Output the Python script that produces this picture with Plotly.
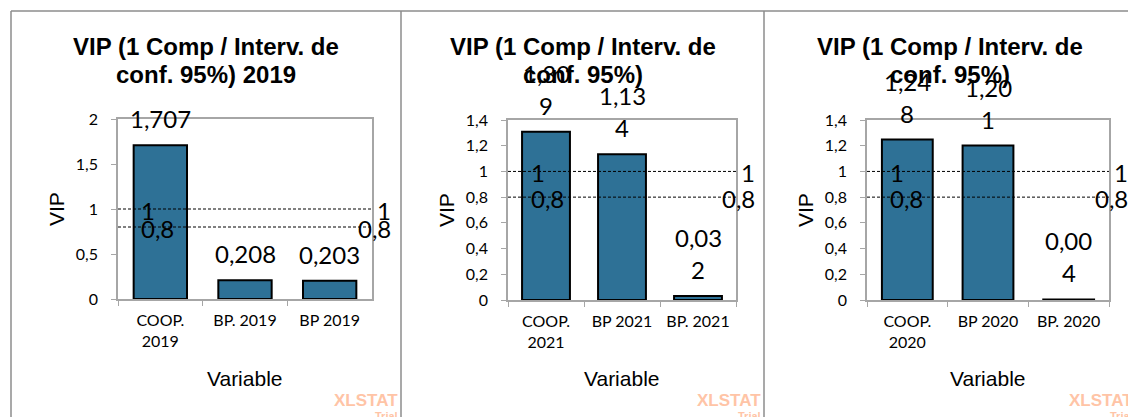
import plotly.graph_objects as go

W, H = 1128, 417

# ---------------- data ----------------
title_line1 = ["VIP (1 Comp / Interv. de", "VIP (1 Comp / Interv. de", "VIP (1 Comp / Interv. de"]
title_line2 = ["conf. 95%) 2019", "conf. 95%)", "conf. 95%)"]

cats_2019 = ["COOP. 2019", "BP. 2019", "BP 2019"]
vip_2019 = [1.707, 0.208, 0.203]

cats_2021 = ["COOP. 2021", "BP 2021", "BP. 2021"]
vip_2021 = [1.309, 1.134, 0.032]

cats_2020 = ["COOP. 2020", "BP 2020", "BP. 2020"]
vip_2020 = [1.248, 1.201, 0.004]

ref_lines = [1, 0.8]
y_max = [2, 1.4, 1.4]
y_dtick = [0.5, 0.2, 0.2]

x_title = "Variable"
y_title = "VIP"

# ---------------- layout geometry (pixels) ----------------
panels = [
    dict(left=11, right=401, ax0=118, ax1=372, top=119, bottom=299, wrap=None),
    dict(left=401, right=764, ax0=508, ax1=736, top=120, bottom=300, wrap=4),
    dict(left=764, right=1136, ax0=867, ax1=1109, top=120, bottom=300, wrap=4),
]
series = [(cats_2019, vip_2019), (cats_2021, vip_2021), (cats_2020, vip_2020)]

BAR_COLOR = "#2E7196"
AXIS_COLOR = "#A6A6A6"
BORDER_COLOR = "#8C8C8C"
LABEL_FONT = "Lato, 'Open Sans', sans-serif"
ARIAL = "'Liberation Sans', Arial, sans-serif"
LINE_GAP = 32


def fx(px):
    return px / W


def fy(py):
    return 1 - py / H


def fmt(v, dec=None):
    return (f"{v:.{dec}f}" if dec is not None else f"{v:g}").replace(".", ",")


def wrap_lines(s, n):
    if n is None or len(s) <= n:
        return [s]
    return [s[:n], s[n:]]


fig = go.Figure()
annotations = []
shapes = []

for i, (p, (cats, vals)) in enumerate(zip(panels, series)):
    k = "" if i == 0 else str(i + 1)
    xa, ya = "x" + k, "y" + k
    fig.add_trace(go.Bar(
        x=cats, y=vals, xaxis=xa, yaxis=ya,
        marker=dict(color=BAR_COLOR, line=dict(color="black", width=2)),
        cliponaxis=False, showlegend=False, hoverinfo="x+y",
    ))
    tick_text = [c.replace("COOP. ", "COOP.<br>") for c in cats]
    fig.update_layout(**{
        "xaxis" + k: dict(
            domain=[fx(p["ax0"]), fx(p["ax1"])], anchor=ya, automargin=False,
            type="category", tickvals=cats, ticktext=tick_text,
            tickson="boundaries", ticks="outside", ticklen=5, tickcolor=AXIS_COLOR,
            showline=True, linecolor=AXIS_COLOR, linewidth=1.5, mirror=True,
            showgrid=False, ticklabelstandoff=6,
            tickfont=dict(family=LABEL_FONT, size=16, color="black"),
        ),
        "yaxis" + k: dict(
            domain=[fy(p["bottom"]), fy(p["top"])], anchor=xa, automargin=False,
            range=[0, y_max[i]], dtick=y_dtick[i], tick0=0,
            ticks="outside", ticklen=5, tickcolor=AXIS_COLOR,
            showline=True, linecolor=AXIS_COLOR, linewidth=1.5, mirror=True,
            showgrid=False, zeroline=False, ticklabelstandoff=10,
            tickfont=dict(family=LABEL_FONT, size=16, color="black"),
        ),
    })

    # data labels (wrapped labels drawn line by line)
    for c, v in zip(cats, vals):
        lines = wrap_lines(fmt(v, 3), p["wrap"])
        for j, line in enumerate(reversed(lines)):
            annotations.append(dict(
                xref=xa, yref=ya, x=c, y=v, text=line,
                showarrow=False, yanchor="bottom", yshift=10 + j * LINE_GAP,
                font=dict(family=LABEL_FONT, size=24, color="black"),
            ))

    # reference lines and their labels
    for r in ref_lines:
        shapes.append(dict(
            type="line", xref=xa + " domain", yref=ya, x0=0, x1=1, y0=r, y1=r,
            line=dict(color="black", width=1, dash="3px,2px"),
        ))
        annotations.append(dict(
            xref=xa + " domain", yref=ya, x=0, y=r, text=fmt(r),
            showarrow=False, xanchor="left", yanchor="middle", xshift=21, yshift=-1,
            font=dict(family=LABEL_FONT, size=24, color="black"),
        ))
        annotations.append(dict(
            xref=xa + " domain", yref=ya, x=1, y=r, text=fmt(r),
            showarrow=False, xanchor="right", yanchor="middle", xshift=21, yshift=-1,
            font=dict(family=LABEL_FONT, size=24, color="black"),
        ))

    # titles
    cx = (p["left"] + p["right"]) / 2
    annotations.append(dict(
        xref="paper", yref="paper", x=fx(cx), y=fy(47), text="<b>" + title_line1[i] + "</b>",
        showarrow=False, xanchor="center", yanchor="middle",
        font=dict(family=ARIAL, size=24, color="black"),
    ))
    annotations.append(dict(
        xref="paper", yref="paper", x=fx(cx), y=fy(74), text="<b>" + title_line2[i] + "</b>",
        showarrow=False, xanchor="center", yanchor="middle",
        font=dict(family=ARIAL, size=24, color="black"),
    ))

    # axis titles
    annotations.append(dict(
        xref="paper", yref="paper", x=fx((p["ax0"] + p["ax1"]) / 2), y=fy(378), text=x_title,
        showarrow=False, xanchor="center", yanchor="middle",
        font=dict(family=ARIAL, size=21, color="black"),
    ))
    annotations.append(dict(
        xref="paper", yref="paper", x=fx(p["ax0"] - 62), y=fy((p["top"] + p["bottom"]) / 2),
        text=y_title, textangle=-90,
        showarrow=False, xanchor="center", yanchor="middle",
        font=dict(family=ARIAL, size=21, color="black"),
    ))

    # watermark
    annotations.append(dict(
        xref="paper", yref="paper", x=fx(p["right"] - 1), y=fy(400), text="<b>XLSTAT</b>",
        showarrow=False, xanchor="right", yanchor="middle",
        font=dict(family=ARIAL, size=17, color="#FFC4A6"),
    ))
    annotations.append(dict(
        xref="paper", yref="paper", x=fx(p["right"] - 1), y=fy(416), text="<b>Trial</b>",
        showarrow=False, xanchor="right", yanchor="middle",
        font=dict(family=ARIAL, size=11, color="#FFC4A6"),
    ))

# panel borders
shapes.append(dict(type="line", xref="paper", yref="paper", x0=fx(11), x1=1, y0=fy(11), y1=fy(11),
                   line=dict(color=BORDER_COLOR, width=1.5), layer="above"))
for bx in [11, 401, 764]:
    shapes.append(dict(type="line", xref="paper", yref="paper", x0=fx(bx), x1=fx(bx), y0=fy(11), y1=0,
                       line=dict(color=BORDER_COLOR, width=1.5), layer="above"))

fig.update_layout(
    width=W, height=H, autosize=False,
    margin=dict(l=0, r=0, t=0, b=0, autoexpand=False),
    paper_bgcolor="white", plot_bgcolor="white",
    bargap=0.37,
    separators=", ",
    showlegend=False,
    annotations=annotations,
    shapes=shapes,
)

fig.write_html(
    "out.html",
    config={"displayModeBar": False, "responsive": False},
    post_script=(
        "document.body.style.margin='0';document.body.style.overflow='hidden';"
    ),
)
